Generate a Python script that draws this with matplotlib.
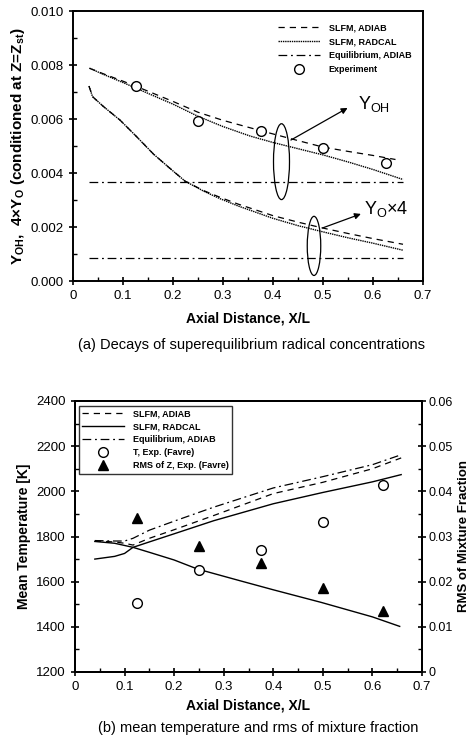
import numpy as np
import matplotlib
matplotlib.use('Agg')
import matplotlib.pyplot as plt
from matplotlib.patches import Ellipse
from matplotlib.ticker import MultipleLocator

plt.rcParams['font.family'] = ['Liberation Sans', 'DejaVu Sans']
plt.rcParams['mathtext.fontset'] = 'custom'
plt.rcParams['mathtext.rm'] = 'Liberation Sans'
plt.rcParams['mathtext.bf'] = 'Liberation Sans:bold'
plt.rcParams['mathtext.it'] = 'Liberation Sans:italic'

# (a) radicales, valores en unidades de 1e-3
x_oh_radcal = [0.033, 0.06, 0.1, 0.125, 0.2, 0.25, 0.3, 0.354, 0.4, 0.45, 0.5, 0.55, 0.6, 0.66]
oh_radcal = [7.88, 7.66, 7.35, 7.15, 6.55, 6.10, 5.72, 5.37, 5.13, 4.90, 4.67, 4.41, 4.13, 3.76]
x_oh_adiab = [0.033, 0.06, 0.1, 0.125, 0.2, 0.25, 0.3, 0.375, 0.45, 0.5, 0.55, 0.6, 0.645]
oh_adiab = [7.88, 7.68, 7.40, 7.22, 6.65, 6.25, 5.95, 5.57, 5.20, 4.96, 4.80, 4.65, 4.50]
x_o_radcal = [0.032, 0.039, 0.061, 0.094, 0.127, 0.161, 0.194, 0.224, 0.261, 0.294, 0.33, 0.4, 0.45, 0.5, 0.55, 0.6, 0.66]
o_radcal = [7.22, 6.83, 6.46, 5.96, 5.35, 4.70, 4.17, 3.70, 3.33, 3.05, 2.78, 2.32, 2.05, 1.82, 1.60, 1.40, 1.14]
x_o_adiab = [0.032, 0.039, 0.061, 0.094, 0.127, 0.161, 0.194, 0.224, 0.261, 0.294, 0.33, 0.4, 0.45, 0.5, 0.55, 0.6, 0.66]
o_adiab = [7.22, 6.83, 6.46, 5.96, 5.35, 4.70, 4.17, 3.70, 3.35, 3.10, 2.85, 2.42, 2.18, 1.96, 1.76, 1.57, 1.36]
x_eq = [0.032, 0.66]
oh_eq = [3.67, 3.67]
o_eq = [0.86, 0.86]
x_exp_a = [0.125, 0.249, 0.375, 0.499, 0.625]
oh_exp = [7.23, 5.93, 5.57, 4.91, 4.37]

# (b) temperatura media y rms de Z
x_t = [0.04, 0.08, 0.10, 0.117, 0.15, 0.2, 0.28, 0.4, 0.5, 0.6, 0.658]
t_eq = [1782, 1780, 1780, 1792, 1828, 1868, 1930, 2015, 2065, 2118, 2162]
t_adiab = [1780, 1776, 1770, 1762, 1792, 1830, 1893, 1990, 2040, 2100, 2148]
t_radcal = [1700, 1712, 1725, 1752, 1776, 1812, 1870, 1945, 1995, 2042, 2074]
x_rms = [0.04, 0.08, 0.117, 0.15, 0.2, 0.247, 0.333, 0.4, 0.497, 0.6, 0.655]
rms_slfm = [0.0289, 0.0285, 0.0276, 0.0265, 0.0248, 0.0228, 0.0202, 0.0182, 0.0154, 0.0122, 0.0101]
x_exp_b = [0.125, 0.25, 0.375, 0.5, 0.622]
t_exp = [1505, 1653, 1742, 1866, 2030]
rms_exp = [0.0342, 0.0278, 0.0242, 0.0187, 0.0136]

DASH = (0, (5, 4))
DOT = (0, (1, 0.6))
DASHDOT = (0, (7, 3, 1.5, 3))

fig = plt.figure(figsize=(4.76, 7.41), dpi=100)


def estilo(ax, size=9.5):
    for s in ax.spines.values():
        s.set_linewidth(1.4)
    ax.tick_params(which='major', direction='inout', length=6, width=1.2, labelsize=size)
    ax.tick_params(which='minor', direction='in', length=3, width=1.0)


# ---- (a) ----
ax1 = fig.add_axes([73 / 476, 1 - 281 / 741, 350 / 476, 270 / 741])
s = 1e-3
ax1.plot(x_oh_adiab, np.array(oh_adiab) * s, color='k', lw=0.9, ls=DASH, label='SLFM, ADIAB')
ax1.plot(x_oh_radcal, np.array(oh_radcal) * s, color='k', lw=1.0, ls=DOT, label='SLFM, RADCAL')
ax1.plot(x_eq, np.array(oh_eq) * s, color='k', lw=0.9, ls=DASHDOT, label='Equilibrium, ADIAB')
ax1.plot(x_o_adiab, np.array(o_adiab) * s, color='k', lw=0.9, ls=DASH)
ax1.plot(x_o_radcal, np.array(o_radcal) * s, color='k', lw=1.0, ls=DOT)
ax1.plot(x_eq, np.array(o_eq) * s, color='k', lw=0.9, ls=DASHDOT)
ax1.plot(x_exp_a, np.array(oh_exp) * s, 'o', mfc='white', mec='k', mew=1.0, ms=7, ls='none',
         label='Experiment')

ax1.add_patch(Ellipse((0.417, 4.42e-3), 0.032, 2.81e-3, fill=False, ec='k', lw=0.9))
ax1.add_patch(Ellipse((0.482, 1.30e-3), 0.027, 2.19e-3, fill=False, ec='k', lw=0.9))
ax1.annotate('', xy=(0.554, 6.46e-3), xytext=(0.431, 5.17e-3),
             arrowprops=dict(arrowstyle='-|>', color='k', lw=0.9, mutation_scale=9))
ax1.annotate('', xy=(0.581, 2.52e-3), xytext=(0.494, 1.93e-3),
             arrowprops=dict(arrowstyle='-|>', color='k', lw=0.9, mutation_scale=9))
ax1.text(0.571, 6.55e-3, r'Y$_{\rm OH}$', fontsize=13, ha='left', va='center')
ax1.text(0.583, 2.67e-3, r'Y$_{\rm O}$×4', fontsize=13, ha='left', va='center')

ax1.set_xlim(0, 0.7)
ax1.set_ylim(0, 0.010)
ax1.set_xticks(np.arange(0, 0.71, 0.1))
ax1.set_xticklabels(['0', '0.1', '0.2', '0.3', '0.4', '0.5', '0.6', '0.7'])
ax1.set_yticks(np.arange(0, 0.0101, 0.002))
ax1.set_yticklabels(['0.000', '0.002', '0.004', '0.006', '0.008', '0.010'])
ax1.xaxis.set_minor_locator(MultipleLocator(0.05))
ax1.yaxis.set_minor_locator(MultipleLocator(0.001))
estilo(ax1)
ax1.set_xlabel('Axial Distance, X/L', fontsize=10, fontweight='bold', labelpad=7)
ax1.set_ylabel(r'Y$_{\mathbf{OH}}$,  4×Y$_{\mathbf{O}}$ (conditioned at Z=Z$_{\mathbf{st}}$)',
               fontsize=11, fontweight='bold', labelpad=3)
ax1.legend(loc='upper right', bbox_to_anchor=(0.99, 0.985), frameon=False,
           prop={'size': 6.5, 'weight': 'bold'}, handlelength=4.6, handletextpad=1.0,
           labelspacing=0.55)
fig.text(252 / 476, 1 - 345 / 741, '(a) Decays of superequilibrium radical concentrations',
         ha='center', va='center', fontsize=10.5)

# ---- (b) ----
ax = fig.add_axes([75 / 476, 1 - 672 / 741, 347 / 476, 271 / 741])
ax2 = ax.twinx()
l1, = ax.plot(x_t, t_adiab, color='k', lw=0.9, ls=DASH, label='SLFM, ADIAB')
l2, = ax.plot(x_t, t_radcal, color='k', lw=1.0, label='SLFM, RADCAL')
l3, = ax.plot(x_t, t_eq, color='k', lw=0.9, ls=DASHDOT, label='Equilibrium, ADIAB')
l4, = ax.plot(x_exp_b, t_exp, 'o', mfc='white', mec='k', mew=1.0, ms=7, ls='none',
              label='T, Exp. (Favre)')
ax2.plot(x_rms, rms_slfm, color='k', lw=1.0)
l5, = ax2.plot(x_exp_b, rms_exp, '^', color='k', ms=7.5, ls='none', label='RMS of Z, Exp. (Favre)')

ax.set_xlim(0, 0.7)
ax.set_ylim(1200, 2400)
ax2.set_ylim(0, 0.06)
ax.set_xticks(np.arange(0, 0.71, 0.1))
ax.set_xticklabels(['0', '0.1', '0.2', '0.3', '0.4', '0.5', '0.6', '0.7'])
ax.set_yticks(np.arange(1200, 2401, 200))
ax2.set_yticks(np.arange(0, 0.061, 0.01))
ax2.set_yticklabels(['0', '0.01', '0.02', '0.03', '0.04', '0.05', '0.06'])
ax.xaxis.set_minor_locator(MultipleLocator(0.05))
ax.yaxis.set_minor_locator(MultipleLocator(100))
ax2.yaxis.set_minor_locator(MultipleLocator(0.005))
estilo(ax)
estilo(ax2, size=9)
ax2.tick_params(which='major', pad=2)
ax.set_xlabel('Axial Distance, X/L', fontsize=10, fontweight='bold', labelpad=4)
ax.set_ylabel('Mean Temperature [K]', fontsize=10, fontweight='bold', labelpad=4)
ax2.set_ylabel('RMS of Mixture Fraction', fontsize=9.5, fontweight='bold', va='center')
ax2.yaxis.set_label_coords(1.122, 0.5)
leg = ax.legend(handles=[l1, l2, l3, l4, l5], loc='upper left', bbox_to_anchor=(0.005, 0.99),
                frameon=True, fancybox=False, edgecolor='k', borderaxespad=0.2,
                prop={'size': 6.5, 'weight': 'bold'}, handlelength=4.6, handletextpad=1.0,
                labelspacing=0.45)
leg.get_frame().set_linewidth(1.0)
ax.set_zorder(ax2.get_zorder() + 1)
ax.patch.set_visible(False)
fig.text(258 / 476, 1 - 728 / 741, '(b) mean temperature and rms of mixture fraction',
         ha='center', va='center', fontsize=10.5)

fig.savefig('out.png', dpi=100)
